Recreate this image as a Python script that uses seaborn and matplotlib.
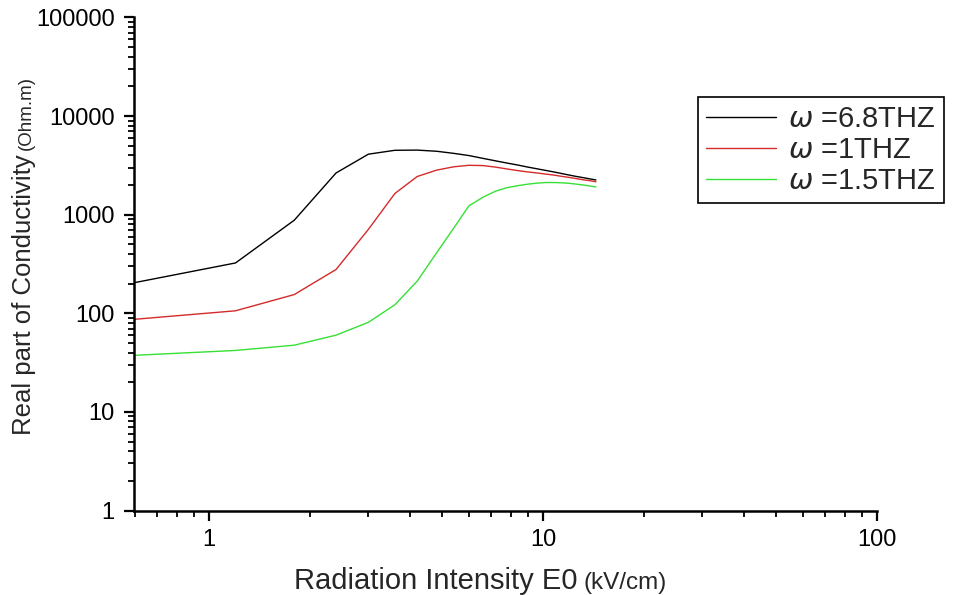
import numpy as np
import pandas as pd
import matplotlib
matplotlib.use("Agg")
import matplotlib.pyplot as plt
from matplotlib.ticker import LogLocator, FuncFormatter, NullFormatter
import seaborn as sns

# Applied field E0 (kV/cm)
field_kv_cm = [0.6, 1.2, 1.8, 2.4, 3.0, 3.6, 4.2, 4.8, 5.4, 6.0, 6.6, 7.2,
               7.8, 8.4, 9.0, 9.6, 10.2, 10.8, 11.4, 12.0, 12.6, 13.2, 13.8, 14.4]

# Real part of the conductivity for each frequency
sigma_6p8_thz = [205, 324, 880, 2650, 4110, 4500, 4520, 4400, 4190, 3980, 3730, 3520,
                 3340, 3190, 3040, 2920, 2810, 2710, 2610, 2520, 2440, 2375, 2310, 2250]
sigma_1_thz = [87, 106, 155, 278, 710, 1640, 2440, 2830, 3060, 3170, 3150, 3040,
               2910, 2800, 2715, 2650, 2580, 2520, 2445, 2385, 2320, 2260, 2215, 2160]
sigma_1p5_thz = [37.5, 42, 47.5, 60, 81, 122, 212, 410, 730, 1230, 1500, 1730,
                 1880, 1970, 2040, 2090, 2120, 2120, 2105, 2080, 2040, 2000, 1955, 1915]

series_labels = [r"$\omega$ =6.8THZ", r"$\omega$ =1THZ", r"$\omega$ =1.5THZ"]
series_colors = ["#000000", "#d42a2a", "#36e036"]

x_ticks = [1, 10, 100]
y_ticks = [1, 10, 100, 1000, 10000, 100000]

df = pd.DataFrame({
    "E0": field_kv_cm * 3,
    "sigma": sigma_6p8_thz + sigma_1_thz + sigma_1p5_thz,
    "series": [series_labels[0]] * len(field_kv_cm)
              + [series_labels[1]] * len(field_kv_cm)
              + [series_labels[2]] * len(field_kv_cm),
})

sns.set_style("ticks")
plt.rcParams["font.family"] = ["Liberation Sans", "DejaVu Sans"]
plt.rcParams["mathtext.fontset"] = "dejavusans"

W, H = 959, 595
fig = plt.figure(figsize=(W / 100, H / 100), dpi=100)
ax = fig.add_axes([134 / W, 1 - 510.5 / H, (877 - 134) / W, (510.5 - 17.5) / H])

sns.lineplot(data=df, x="E0", y="sigma", hue="series", hue_order=series_labels,
             palette=dict(zip(series_labels, series_colors)), estimator=None,
             sort=False, linewidth=1.0, ax=ax)

ax.set_xscale("log")
ax.set_yscale("log")
ax.set_xlim(0.596, 100)
ax.set_ylim(1, 100000)

ax.set_xticks(x_ticks)
ax.set_yticks(y_ticks)
fmt = FuncFormatter(lambda v, p: f"{v:.0f}")
ax.xaxis.set_major_formatter(fmt)
ax.yaxis.set_major_formatter(fmt)
ax.xaxis.set_minor_locator(LogLocator(base=10, subs=np.arange(2, 10)))
ax.yaxis.set_minor_locator(LogLocator(base=10, subs=np.arange(2, 10)))
ax.xaxis.set_minor_formatter(NullFormatter())
ax.yaxis.set_minor_formatter(NullFormatter())

ax.tick_params(which="major", direction="out", length=7, width=1.6,
               labelsize=17, colors="black")
ax.tick_params(axis="x", which="major", pad=6)
ax.tick_params(axis="y", which="major", pad=7)
ax.tick_params(which="minor", direction="out", length=4, width=1.3, colors="black")

sns.despine(ax=ax)
for side in ("left", "bottom"):
    ax.spines[side].set_linewidth(1.8)
    ax.spines[side].set_color("black")

ax.set_xlabel("")
ax.set_ylabel("")

# Legend box sits partly outside the plotting area on the right
handles, labels = ax.get_legend_handles_labels()
leg = ax.legend(handles, labels, loc="upper left",
                bbox_to_anchor=(698 / W, 1 - 97 / H), bbox_transform=fig.transFigure,
                frameon=True, fancybox=False, edgecolor="black", framealpha=1,
                fontsize=21, handlelength=2.4, handletextpad=0.4,
                labelspacing=0.1, borderpad=0.28, borderaxespad=0)
leg.get_frame().set_linewidth(1.2)

# Axis titles: main text plus a smaller unit part
renderer = fig.canvas.get_renderer()
to_fig = fig.transFigure.inverted()

xl = fig.text(294 / W, 1 - 589 / H, "Radiation Intensity E0", fontsize=21,
              ha="left", va="baseline")
bb = xl.get_window_extent(renderer)
fig.text(to_fig.transform((bb.x1 + 6, 0))[0], 1 - 589 / H, "(kV/cm)",
         fontsize=17.5, ha="left", va="baseline")

yl = fig.text(31 / W, 1 - 435 / H, "Real part of Conductivity", fontsize=18.5,
              rotation=90, rotation_mode="anchor", ha="left", va="baseline")
bb = yl.get_window_extent(renderer)
fig.text(31 / W, to_fig.transform((0, bb.y1 + 4))[1], "(Ohm.m)",
         fontsize=13.5, rotation=90, rotation_mode="anchor", ha="left", va="baseline")

fig.savefig("out.png", dpi=100)
